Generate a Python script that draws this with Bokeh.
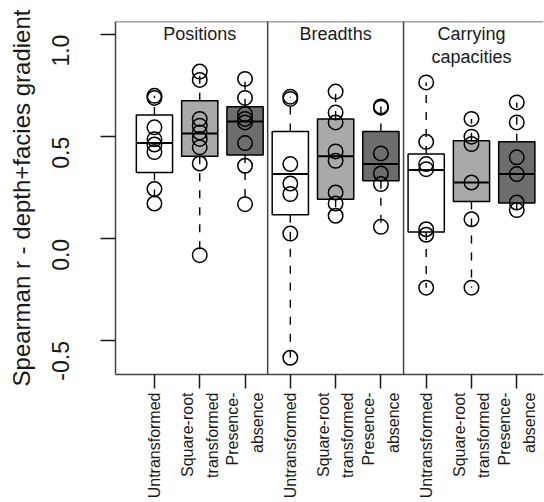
import math
from bokeh.plotting import figure
from bokeh.models import Range1d, FixedTicker, Span, Label, ColumnDataSource
from bokeh.embed import file_html
from bokeh.resources import INLINE

# Panels (response variable) and treatments (community data transformation)
panels = ["Positions", "Breadths", "Carrying\ncapacities"]
treatments = ["Untransformed", "Square-root\ntransformed", "Presence-\nabsence"]
box_fills = ["#ffffff", "#a9a9a9", "#6d6d6d"]

# Box statistics for the nine groups (panel-major order)
q1 = [0.325, 0.404, 0.410, 0.118, 0.194, 0.284, 0.034, 0.183, 0.175]
median = [0.469, 0.516, 0.574, 0.317, 0.404, 0.366, 0.337, 0.276, 0.317]
q3 = [0.606, 0.676, 0.647, 0.525, 0.587, 0.525, 0.415, 0.480, 0.475]

# Individual Spearman r values per group
points = [
    [0.700, 0.690, 0.546, 0.487, 0.462, 0.425, 0.244, 0.173],
    [0.819, 0.778, 0.587, 0.554, 0.521, 0.489, 0.448, 0.369, -0.080],
    [0.783, 0.690, 0.611, 0.587, 0.570, 0.469, 0.358, 0.170],
    [0.696, 0.685, 0.366, 0.271, 0.219, 0.026, -0.582],
    [0.721, 0.619, 0.570, 0.428, 0.382, 0.227, 0.173, 0.113],
    [0.648, 0.642, 0.418, 0.320, 0.268, 0.059],
    [0.766, 0.475, 0.366, 0.341, 0.047, 0.020, -0.239],
    [0.587, 0.500, 0.464, 0.276, 0.096, -0.239],
    [0.668, 0.570, 0.399, 0.317, 0.178, 0.141],
]

y_ticks = [-0.5, 0.0, 0.5, 1.0]
y_lo, y_hi = -0.664, 1.064
x_lo, x_hi = 0.14, 9.59

FONT = "Liberation Sans"
INK = "#1a1a1a"
FRAME = "#444444"

n_groups = len(q1)
xpos = list(range(1, n_groups + 1))
half = 0.4

p = figure(width=544, height=502,
           x_range=Range1d(x_lo, x_hi), y_range=Range1d(y_lo, y_hi),
           output_backend="svg", toolbar_location=None,
           min_border_left=115, min_border_right=1,
           min_border_top=21, min_border_bottom=128)
p.outline_line_color = None
p.grid.visible = False
p.background_fill_color = "white"
p.border_fill_color = "white"

# y axis
ya = p.yaxis[0]
ya.ticker = FixedTicker(ticks=y_ticks)
ya.major_label_overrides = {t: f"{t:.1f}" for t in y_ticks}
ya.major_label_orientation = math.pi / 2
ya.major_label_text_font = FONT
ya.major_label_text_font_size = "23px"
ya.major_label_text_color = INK
ya.major_label_standoff = 40
ya.major_tick_out = 15
ya.major_tick_in = 0
ya.minor_tick_out = 0
ya.minor_tick_in = 0
ya.major_tick_line_color = INK
ya.major_tick_line_width = 1.5
ya.axis_line_color = FRAME
ya.axis_line_width = 1.5
ya.axis_label = "Spearman r - depth+facies gradient"
ya.axis_label_text_font = FONT
ya.axis_label_text_font_size = "24px"
ya.axis_label_text_font_style = "normal"
ya.axis_label_text_color = INK
ya.axis_label_standoff = 6

# x axis: one tick per box, treatment names as rotated two-line labels
xa = p.xaxis[0]
xa.ticker = FixedTicker(ticks=xpos)
xa.major_label_overrides = {x: treatments[(x - 1) % 3] for x in xpos}
xa.major_label_orientation = math.pi / 2
xa.major_label_text_font = FONT
xa.major_label_text_font_size = "16px"
xa.major_label_text_line_height = 1.45
xa.major_label_text_color = INK
xa.major_label_standoff = 4
xa.major_tick_out = 14
xa.major_tick_in = 0
xa.minor_tick_out = 0
xa.minor_tick_in = 0
xa.major_tick_line_color = INK
xa.major_tick_line_width = 1.5
xa.axis_line_color = FRAME
xa.axis_line_width = 1.5

# top border and panel dividers
p.add_layout(Span(location=y_hi, dimension="width", line_color=FRAME, line_width=1.5))
for d in (3.5, 6.5):
    p.add_layout(Span(location=d, dimension="height", line_color=FRAME, line_width=1.5))

# whiskers to the extreme values
w_x, w_y0, w_y1 = [], [], []
for i in range(n_groups):
    w_x += [xpos[i], xpos[i]]
    w_y0 += [q3[i], q1[i]]
    w_y1 += [max(points[i]), min(points[i])]
p.segment(x0=w_x, y0=w_y0, x1=w_x, y1=w_y1, line_color="black",
          line_width=1.4, line_dash="8 9")

# boxes
fills = [box_fills[i % 3] for i in range(n_groups)]
box_src = ColumnDataSource(dict(
    left=[x - half for x in xpos], right=[x + half for x in xpos],
    bottom=q1, top=q3, fill=fills, med=median))
p.quad(left="left", right="right", bottom="bottom", top="top",
       fill_color="fill", line_color="black", line_width=1.5, source=box_src)
p.segment(x0="left", y0="med", x1="right", y1="med", line_color="black",
          line_width=2, source=box_src)

# individual values
px, py = [], []
for i in range(n_groups):
    px += [xpos[i]] * len(points[i])
    py += points[i]
p.scatter(x=px, y=py, marker="circle", size=14.5, fill_color=None,
          line_color="black", line_width=1.5)

# pixel scale of the frame, for placing the panel titles
frame_h = 502 - 21 - 128
px_per_y = frame_h / (y_hi - y_lo)

# panel titles
for k, title in enumerate(panels):
    cx = 3 * k + 2
    for j, line in enumerate(title.split("\n")):
        p.add_layout(Label(x=cx, y=y_hi - (12 + 23 * j) / px_per_y,
                           text=line, text_align="center",
                           text_baseline="alphabetic", text_font=FONT,
                           text_font_size="18px", text_color=INK))

open("out.html", "w").write(file_html(p, INLINE))
